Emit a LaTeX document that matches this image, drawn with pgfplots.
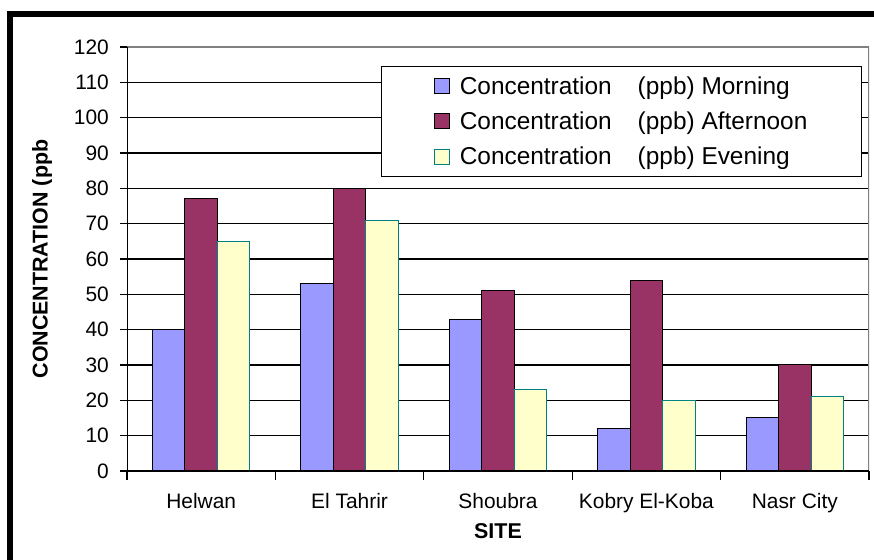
\documentclass[border=0pt]{standalone}
\usepackage{pgfplots}
\pgfplotsset{compat=1.18}
\usepackage{fontspec}
\setmainfont{Liberation Sans}
\definecolor{morn}{HTML}{9999FF}
\definecolor{aft}{HTML}{993366}
\definecolor{eve}{HTML}{FFFFCC}
\definecolor{evedraw}{HTML}{008080}
\begin{document}
\begin{tikzpicture}
\path[use as bounding box] (0,0) rectangle (874bp,560bp);
\fill[white] (0,0) rectangle (874bp,560bp);
\draw[line width=5.4bp] (10bp,0bp) -- (10bp,545.8bp) -- (874bp,545.8bp);
\begin{axis}[
  at={(127bp,89bp)}, anchor=south west,
  scale only axis, width=742bp, height=424bp,
  ybar=0pt, bar width=32.5bp,
  xmin=-0.5, xmax=4.5, ymin=0, ymax=120,
  ytick={0,10,...,120},
  xtick={0,1,2,3,4},
  xticklabels={Helwan, El Tahrir, Shoubra, Kobry El-Koba, Nasr City},
  minor xtick={-0.5,0.5,1.5,2.5,3.5,4.5},
  major x tick style={draw=none},
  tick pos=left,
  tick align=outside,
  major tick length=7bp, minor tick length=9bp,
  tick style={black, line width=1.2bp},
  axis line style={draw=none},
  ymajorgrids, major grid style={black, line width=1.2bp},
  /pgf/number format/assume math mode=true,
  ticklabel style={font=\fontsize{21}{25}\selectfont},
  yticklabel style={inner sep=0pt, anchor=east, xshift=-11bp},
  xticklabel style={inner sep=0pt, anchor=north, yshift=-15bp},
  xlabel={SITE},
  ylabel={CONCENTRATION (ppb},
  label style={font=\fontsize{21.5}{26}\selectfont\bfseries},
  xlabel style={at={(axis description cs:0.5,-0.1415)}, anchor=center},
  ylabel style={at={(axis description cs:-0.1146,0.5)}, anchor=center, rotate=0},
  legend style={at={(axis description cs:0.9906,0.955)}, anchor=north east,
    draw=black, line width=1.3bp, fill=white,
    font=\fontsize{24.5}{29}\selectfont,
    inner xsep=52bp, inner ysep=8bp, row sep=12bp,
    cells={anchor=west}},
  legend image code/.code={\draw[#1, line width=1bp] (0bp,-7.5bp) rectangle (15bp,7.5bp); \path (23bp,0bp);},
]
\addplot[fill=morn, draw=black, line width=1bp] coordinates {(0,40) (1,53) (2,43) (3,12) (4,15)};
\addlegendentry{Concentration\hspace{26bp}(ppb) Morning}
\addplot[fill=aft, draw=black, line width=1bp] coordinates {(0,77) (1,80) (2,51) (3,54) (4,30)};
\addlegendentry{Concentration\hspace{26bp}(ppb) Afternoon}
\addplot[fill=eve, draw=evedraw, line width=1bp] coordinates {(0,65) (1,71) (2,23) (3,20) (4,21)};
\addlegendentry{Concentration\hspace{26bp}(ppb) Evening}
\draw[gray, line width=1.3bp] (rel axis cs:0,1) -- (rel axis cs:1,1) -- (rel axis cs:1,0);
\draw[black, line width=1.4bp] (rel axis cs:0,1) -- (rel axis cs:0,0) -- (rel axis cs:1,0);
\end{axis}
\end{tikzpicture}
\end{document}
